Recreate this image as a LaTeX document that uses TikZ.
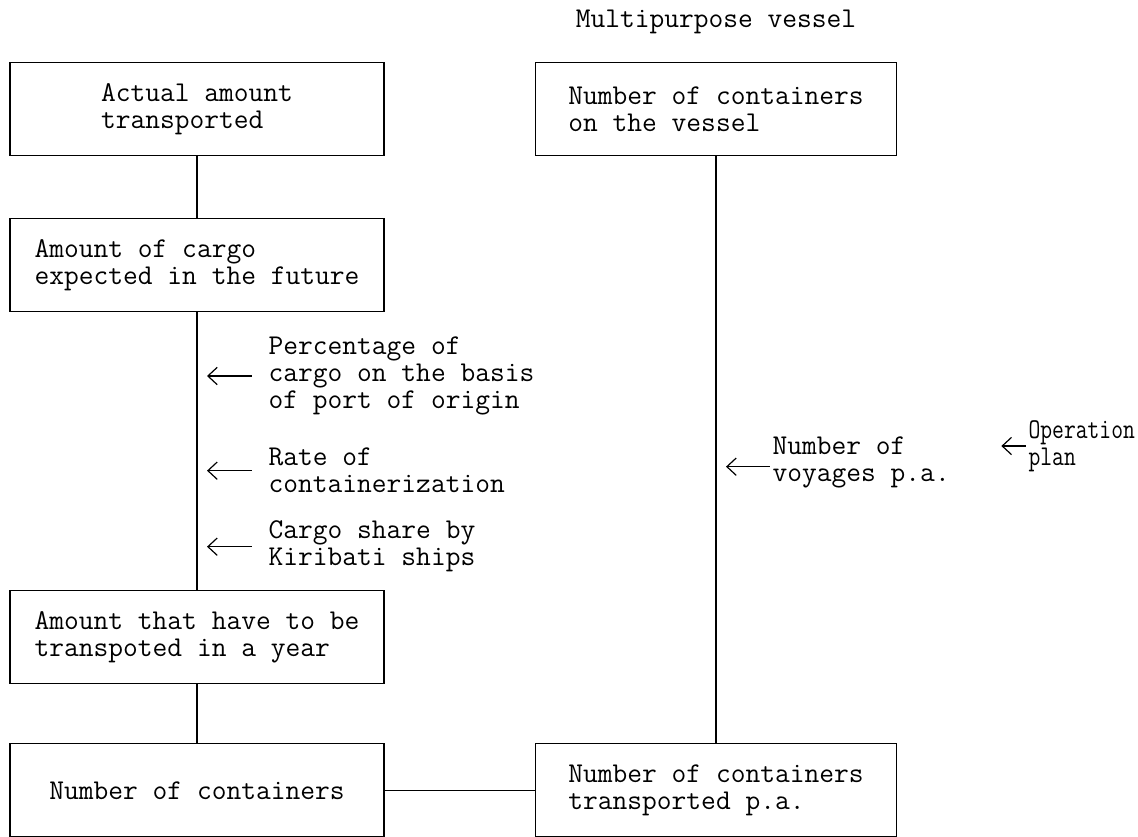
\documentclass[tikz,border=0pt]{standalone}
\usepackage{fontspec}
\newfontfamily\planfont{Latin Modern Mono}[FakeStretch=0.8]
\usetikzlibrary{arrows.meta}

\begin{document}
\begin{tikzpicture}[>={Straight Barb[length=7pt,width=13pt]},line width=0.9pt,
                    node distance=117pt,
                    every node/.style={font=\ttfamily\fontsize{21.5}{20.25}\selectfont}]
  \tikzstyle{box}=[draw,align=left,minimum width=280.5pt,minimum height=70pt]
  \tikzstyle{vbox}=[box,minimum width=271pt]
  \tikzstyle{factor}=[align=left,anchor=west,inner sep=0pt]
  \tikzstyle{feed}=[<-,shorten <=7.5pt]

  \useasboundingbox (0,0) rectangle (853.5pt,-627pt);

  \node[box]  (actual)   at (147.75pt,-81.75pt) {Actual amount\\transported};
  \node[box]  (future)   [below of=actual] {Amount of cargo\\expected in the future};
  \node[box]  (yearly)   [below of=future, node distance=279pt] {Amount that have to be\\transpoted in a year};
  \node[box]  (count)    [below of=yearly, node distance=115pt] {Number of containers};
  \node[vbox] (onboard)  [right of=actual, node distance=389.25pt] {Number of containers\\on the vessel};
  \node[vbox] (perannum) [right of=count, node distance=389.25pt] {Number of containers\\transported p.a.};
  \node       (title)    [above of=onboard, node distance=65.25pt] {Multipurpose vessel};

  \node[factor] (origin)  at (201pt,-282pt) {Percentage of\\cargo on the basis\\of port of origin};
  \node[factor] (rate)    at (201pt,-353pt) {Rate of\\containerization};
  \node[factor] (share)   at (201pt,-410pt) {Cargo share by\\Kiribati ships};
  \node[factor] (voyages) at (579pt,-347pt) {Number of\\voyages p.a.};
  \node[factor,font=\planfont\fontsize{21.5}{20.25}\selectfont] (plan) at (771pt,-334.5pt) {Operation\\plan};

  \draw (actual) -- (future);
  \draw (future) -- (yearly);
  \draw (yearly) -- (count);
  \draw (onboard) -- (perannum);
  \draw (count) -- (perannum);

  \draw[feed,shorten >=12pt] (origin.west -| future.south) -- (origin.west);
  \draw[feed,shorten >=12pt] (rate.west -| future.south) -- (rate.west);
  \draw[feed,shorten >=12pt] (share.west -| future.south) -- (share.west);
  \draw[feed,shorten >=1.5pt] ([yshift=-3pt]voyages.west -| onboard.south) -- ([yshift=-3pt]voyages.west);
  \draw[feed,shorten <=0pt,shorten >=1.5pt] ([xshift=-20pt]plan.west) -- (plan.west);
\end{tikzpicture}
\end{document}
